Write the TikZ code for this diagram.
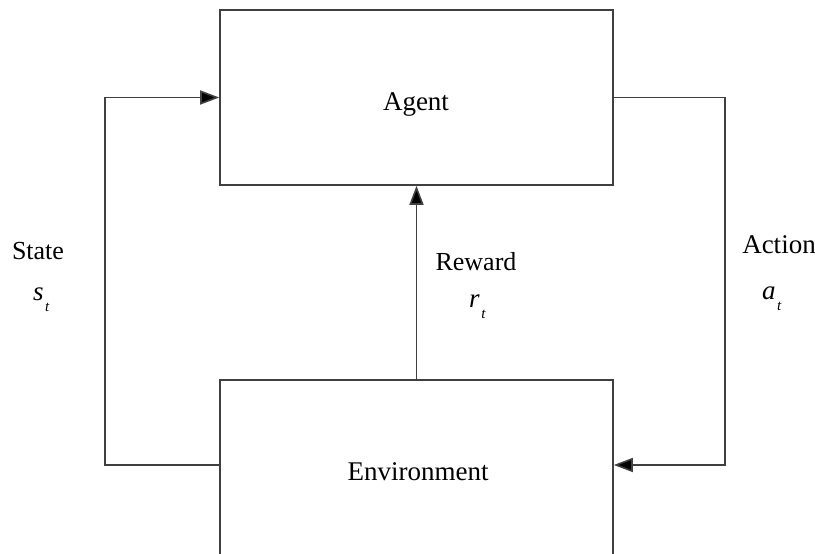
\documentclass[tikz,border=0pt]{standalone}
\usepackage{fontspec}
\setmainfont{Liberation Serif}
\usetikzlibrary{arrows.meta}
% italic symbol with a lowered italic index
\newcommand\symsub[2]{\textit{#1}\kern1.5pt\raisebox{-11pt}{\fontsize{15}{17}\selectfont\textit{#2}}}
\begin{document}
\begin{tikzpicture}[x=1pt,y=-1pt,
  block/.style={draw=black!75, line width=1.6pt, minimum width=393pt, inner sep=0pt},
  link/.style={draw=black!75, line width=1.6pt},
  tip/.style={-{Triangle[length=19pt,width=14pt,fill=black]}},
  lbl/.style={font=\fontsize{26}{30}\selectfont, inner sep=0pt, anchor=base},
  sym/.style={font=\fontsize{27}{30}\selectfont, inner sep=0pt, anchor=base west}]
  \useasboundingbox (0,0) rectangle (815,554);
  % the two blocks
  \node[block, minimum height=175pt] (agent) at (416.5,97.5) {};
  \node[block, minimum height=200pt] (env) at (416.5,480) {};
  \node[lbl, font=\fontsize{27}{31}\selectfont] (agenttxt) at (416,110) {Agent};
  \node[lbl, font=\fontsize{27}{31}\selectfont] (envtxt) at (418,480) {Environment};
  % corner points of the loops
  \coordinate (lc) at (105,465);
  \coordinate (rc) at (725,465);
  % state feedback
  \draw[link, tip] (env.west |- lc) -- (lc) |- (agent.west);
  % action
  \draw[link, tip] (agent.east) -| (rc) -- (env.east |- rc);
  % reward
  \draw[link, tip] (env.north) -- (agent.south);
  % labels
  \node[lbl] (state) at (38,259) {State};
  \node[sym] (st) at (33,300) {\symsub{s}{t}};
  \node[lbl] (reward) at (476,270) {Reward};
  \node[sym] (rt) at (469,307) {\symsub{r}{t}};
  \node[lbl, font=\fontsize{27}{31}\selectfont] (action) at (779,253) {Action};
  \node[sym] (at) at (762,299) {\symsub{a}{t}};
\end{tikzpicture}
\end{document}
